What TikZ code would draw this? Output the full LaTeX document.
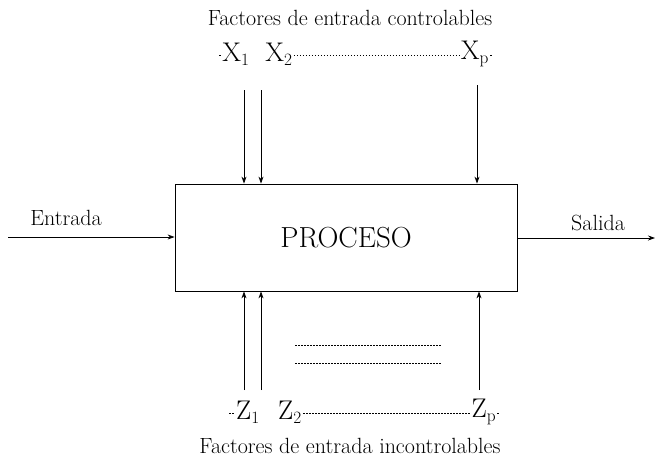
\documentclass[tikz,border=0pt]{standalone}
\usetikzlibrary{arrows.meta}
\begin{document}
\begin{tikzpicture}[x=1pt,y=-1pt,
  conn/.style={line width=0.8pt,-{Stealth[length=7pt,width=5pt]}},
  lbl/.style={font=\fontsize{22}{26}\selectfont,inner sep=1pt},
  var/.style={font=\fontsize{27}{30}\selectfont,inner sep=1pt},
  dots/.style={line width=0.7pt,dash pattern=on 1.5pt off 1.5pt}]
\useasboundingbox (0,0) rectangle (655,463);
\node[draw,line width=0.8pt,minimum width=342pt,minimum height=107pt,
  font=\fontsize{29}{32}\selectfont] (proc) at (346,237.5) {PROCESO};
\node[lbl] (ftop) at (350,18) {Factores de entrada controlables};
\node[lbl] (fbot) at (350,446) {Factores de entrada incontrolables};
\node[lbl] (ent) at (66,218) {Entrada};
\node[lbl] (sal) at (598,223) {Salida};
% top labels and dotted line
\node[var] (x1) at (236,54) {X$_1$};
\node[var] (x2) at (279,54) {X$_2$};
\node[var] (xp) at (475,54) {X$_{\mathrm p}$};
\coordinate (td1) at (219,55);
\coordinate (td2) at (492,55);
\draw[dots] (td1) -- (td1 -| x1.west);
\draw[dots] (x2.east |- td1) -- (xp.west |- td1);
\draw[dots] (xp.east |- td2) -- (td2);
% bottom labels and dotted line
\node[var] (z1) at (248,412) {Z$_1$};
\node[var] (z2) at (290,412) {Z$_2$};
\node[var] (zp) at (484,412) {Z$_{\mathrm p}$};
\coordinate (bd1) at (229,413);
\coordinate (bd2) at (500,413);
\draw[dots] (bd1) -- (bd1 -| z1.west);
\draw[dots] (z2.east |- bd1) -- (zp.west |- bd1);
\draw[dots] (zp.east |- bd2) -- (bd2);
% middle dots
\coordinate (m1a) at (295,345); \coordinate (m1b) at (442,345);
\coordinate (m2a) at (295,363); \coordinate (m2b) at (442,363);
\draw[dots] (m1a) -- (m1b);
\draw[dots] (m2a) -- (m2b);
% top arrows
\coordinate (a1) at (244,90); \coordinate (a2) at (261,90); \coordinate (ap) at (477,85);
\draw[conn] (a1) -- (a1 |- proc.north);
\draw[conn] (a2) -- (a2 |- proc.north);
\draw[conn] (ap) -- (ap |- proc.north);
% bottom arrows
\coordinate (b1) at (244,390); \coordinate (b2) at (261,390); \coordinate (bp) at (479,390);
\draw[conn] (b1) -- (b1 |- proc.south);
\draw[conn] (b2) -- (b2 |- proc.south);
\draw[conn] (bp) -- (bp |- proc.south);
% input/output
\coordinate (in) at (8,237);
\coordinate (out) at (655,238);
\draw[conn] (in) -- (in -| proc.west);
\draw[conn] (proc.east |- out) -- (out);
\end{tikzpicture}
\end{document}
